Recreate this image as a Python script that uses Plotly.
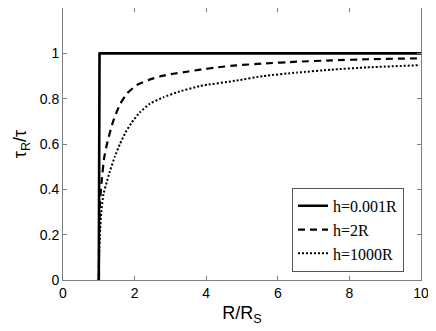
import plotly.graph_objects as go

# h = 0.001R
x_h0001 = [1.0, 1.0, 1.002, 1.006, 1.012, 1.02, 1.04, 2.0, 4.0, 6.0, 8.0, 10.0]
y_h0001 = [0.0, 0.96, 0.985, 0.994, 0.998, 0.9995, 1.0, 1.0, 1.0, 1.0, 1.0, 1.0]

# h = 2R
x_h2 = [1.0, 1.01, 1.03, 1.08, 1.15, 1.25, 1.40, 1.59, 1.80, 2.06, 2.40, 2.71, 3.08, 3.50, 3.83, 4.30, 4.85, 5.60, 6.53, 7.50, 8.50, 9.97]
y_h2 = [0.0, 0.20, 0.33, 0.437, 0.54, 0.615, 0.70, 0.775, 0.825, 0.860, 0.883, 0.898, 0.910, 0.920, 0.928, 0.938, 0.947, 0.955, 0.963, 0.969, 0.974, 0.978]

# h = 1000R
x_h1000 = [1.0, 1.01, 1.03, 1.07, 1.13, 1.22, 1.31, 1.45, 1.59, 1.75, 1.92, 2.15, 2.43, 2.80, 3.22, 3.83, 4.85, 5.60, 6.53, 7.50, 8.50, 9.97]
y_h1000 = [0.0, 0.12, 0.20, 0.30, 0.379, 0.43, 0.48, 0.545, 0.60, 0.652, 0.695, 0.740, 0.778, 0.806, 0.830, 0.856, 0.880, 0.900, 0.915, 0.928, 0.938, 0.948]

x_ticks = [0, 2, 4, 6, 8, 10]
y_ticks = [0, 0.2, 0.4, 0.6, 0.8, 1]
y_tick_labels = ["0", "0.2", "0.4", "0.6", "0.8", "1"]

fig = go.Figure()
fig.add_trace(go.Scatter(x=x_h0001, y=y_h0001, mode="lines", name="h=0.001R",
                         line=dict(color="black", width=2.6), cliponaxis=False))
fig.add_trace(go.Scatter(x=x_h2, y=y_h2, mode="lines", name="h=2R",
                         line=dict(color="black", width=2.2, dash="7px,5px", shape="spline", smoothing=0.4)))
fig.add_trace(go.Scatter(x=x_h1000, y=y_h1000, mode="lines", name="h=1000R",
                         line=dict(color="black", width=2.0, dash="2px,2px", shape="spline", smoothing=0.4)))

axis_common = dict(
    showline=True, linecolor="#808080", linewidth=1, mirror="ticks",
    ticks="inside", ticklen=4, tickcolor="#808080", showgrid=False, zeroline=False,
    automargin=False,
    tickfont=dict(family="Liberation Sans, Arial", size=14, color="black"),
)

# page body has an 8px margin, so the figure is sized/offset to compensate
fig.update_layout(
    width=428, height=323,
    margin=dict(l=55, r=15, t=0, b=51),
    paper_bgcolor="white", plot_bgcolor="white",
    showlegend=True,
    legend=dict(x=0.9525, y=0.03, xanchor="right", yanchor="bottom",
                bordercolor="#555555", borderwidth=1, bgcolor="white",
                font=dict(family="Liberation Serif, Times New Roman", size=16, color="black"),
                tracegroupgap=0, itemwidth=30),
    xaxis=dict(range=[0, 10], tickvals=x_ticks, ticktext=[str(v) for v in x_ticks],
               title=dict(text="R/R<sub>S</sub>", standoff=6,
                          font=dict(family="Liberation Sans, Arial", size=18, color="black")),
               **axis_common),
    yaxis=dict(range=[0, 1.2], tickvals=y_ticks, ticktext=y_tick_labels,
               title=dict(text="τ<sub>R</sub>/τ", standoff=8,
                          font=dict(family="Liberation Sans, Arial", size=18, color="black")),
               **axis_common),
)

fig.write_html("out.html")
